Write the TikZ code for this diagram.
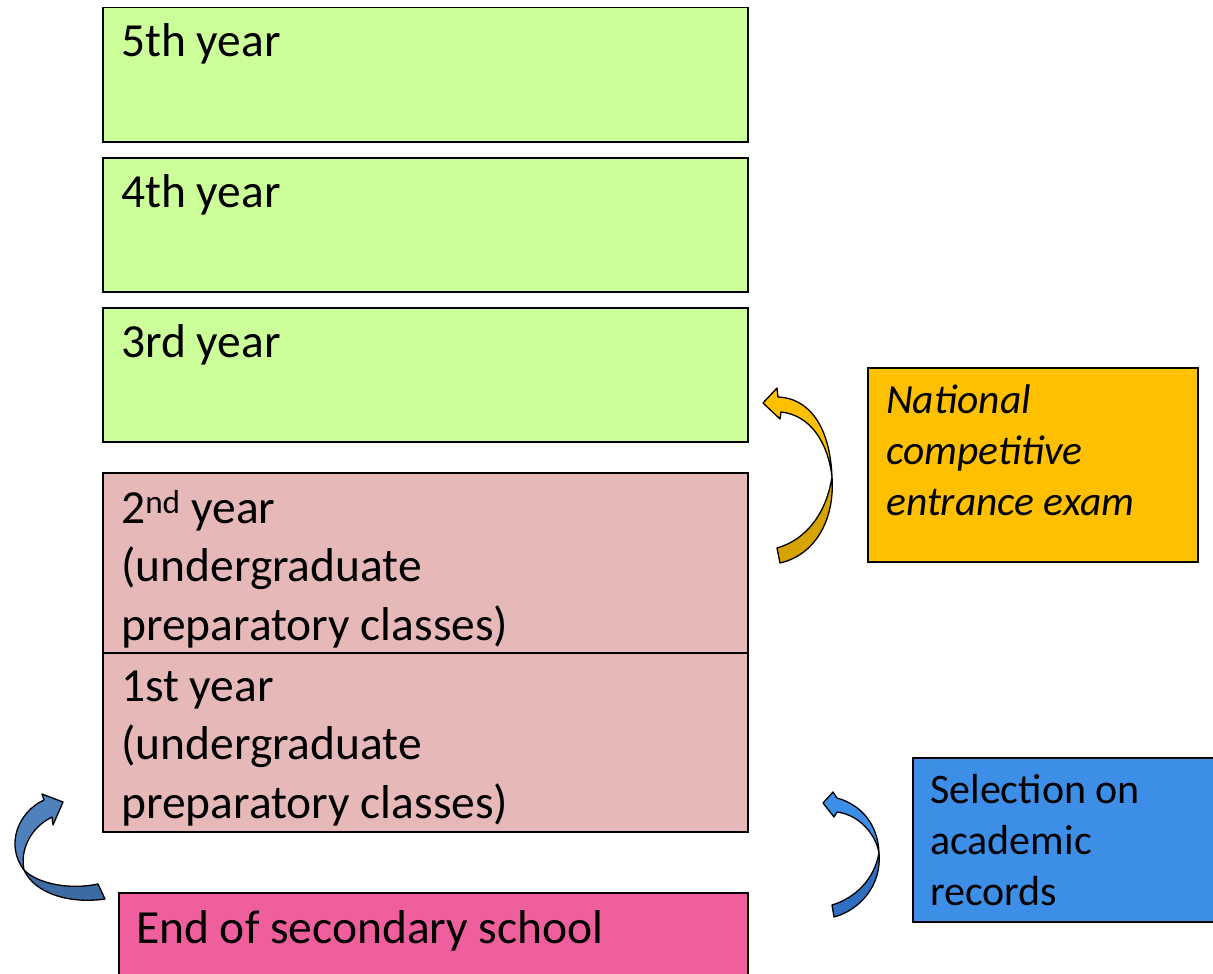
\documentclass[tikz,border=0pt]{standalone}
\usepackage{fontspec}
\setmainfont{Carlito}
\definecolor{yeargreen}{HTML}{CCFF99}
\definecolor{prepred}{HTML}{E6B8B7}
\definecolor{endpink}{HTML}{EF5F9D}
\definecolor{examgold}{HTML}{FFC000}
\definecolor{examdark}{HTML}{D6A400}
\definecolor{selblue}{HTML}{3D8EE6}
\definecolor{seldark}{HTML}{2E6FC2}
\definecolor{leftblue}{HTML}{4F81BD}
\definecolor{leftdark}{HTML}{3C6AA3}
\newcommand{\bigtxt}{\fontsize{47.5}{58.5}\selectfont}
\newcommand{\sidetxt}{\fontsize{42}{51}\selectfont}
\newcommand{\examtxt}{\fontsize{41.5}{51}\selectfont}
\begin{document}
\begin{tikzpicture}[x=1pt,y=-1pt,
  yearbox/.style={draw=black,line width=1.5pt,rectangle,inner sep=0pt,anchor=north west},
  lbl/.style={anchor=base west,inner sep=0pt,font=\bigtxt,align=left},
  slbl/.style={anchor=base west,inner sep=0pt,font=\sidetxt,align=left},
  elbl/.style={anchor=base west,inner sep=0pt,font=\examtxt,align=left},
  arr/.style={draw=black,line width=1.3pt,line join=round}]
\clip (0,0) rectangle (1213,974);
\fill[white] (0,0) rectangle (1213,974);
% year boxes
\node[yearbox,fill=yeargreen,minimum width=645,minimum height=134] (y5) at (102,7) {};
\node[yearbox,fill=yeargreen,minimum width=645,minimum height=134] (y4) at (102,157) {};
\node[yearbox,fill=yeargreen,minimum width=645,minimum height=134] (y3) at (102,307) {};
\node[yearbox,fill=prepred,minimum width=645,minimum height=180] (y2) at (102,472) {};
\node[yearbox,fill=prepred,minimum width=645,minimum height=179] (y1) at (102,652) {};
\node[yearbox,fill=endpink,minimum width=629,minimum height=110] (es) at (118,892) {};
\node[yearbox,fill=examgold,minimum width=330,minimum height=194] (ex) at (867,367) {};
\node[yearbox,fill=selblue,minimum width=320,minimum height=164] (sel) at (912,757) {};
% labels
\node[lbl] (y5t) at (121,57) {5th year};
\node[lbl] (y4t) at (121,207) {4th year};
\node[lbl] (y3t) at (121,357) {3rd year};
\node[lbl] (y2t) at (121,523) {\parbox[t]{600pt}{2\textsuperscript{nd} year\\(undergraduate\\preparatory classes)}};
\node[lbl] (y1t) at (121,701) {\parbox[t]{600pt}{1st year\\(undergraduate\\preparatory classes)}};
\node[lbl] (est) at (136,943) {End of secondary school};
\node[elbl] (ext) at (886,413) {\parbox[t]{300pt}{\itshape National\\competitive\\entrance exam}};
\node[slbl] (selt) at (930,803) {\parbox[t]{300pt}{Selection on\\academic\\records}};
% yellow curved arrow (exam -> 3rd year)
\filldraw[arr,fill=examdark] (832,477) .. controls (835,520) and (815,555) .. (780,563) -- (777,548) .. controls (805,540) and (826,515) .. (832,477) -- cycle;
\filldraw[arr,fill=examgold] (763,403) -- (777,388) -- (778,397) .. controls (808,398) and (830,425) .. (832,477) .. controls (828,442) and (810,415) .. (781,412) -- (780,419) -- cycle;
% blue curved arrow (selection -> 1st year)
\filldraw[arr,fill=seldark] (879,853) .. controls (882,885) and (860,910) .. (834,917) -- (832,905) .. controls (855,898) and (874,880) .. (879,853) -- cycle;
\filldraw[arr,fill=selblue] (823,803) -- (833,792) -- (837,798) .. controls (862,805) and (878,825) .. (879,853) .. controls (876,835) and (860,815) .. (837,812) -- (834,817) -- cycle;
% left curved arrow (end of school -> 1st year)
\filldraw[arr,fill=leftdark] (24,870) .. controls (35,894) and (70,904) .. (105,899) -- (98,884) .. controls (70,890) and (38,884) .. (24,870) -- cycle;
\filldraw[arr,fill=leftblue] (63,802) -- (42,794) -- (44,800) .. controls (18,812) and (5,845) .. (24,870) .. controls (20,850) and (30,828) .. (52,817) -- (53,825) -- cycle;
\end{tikzpicture}
\end{document}
